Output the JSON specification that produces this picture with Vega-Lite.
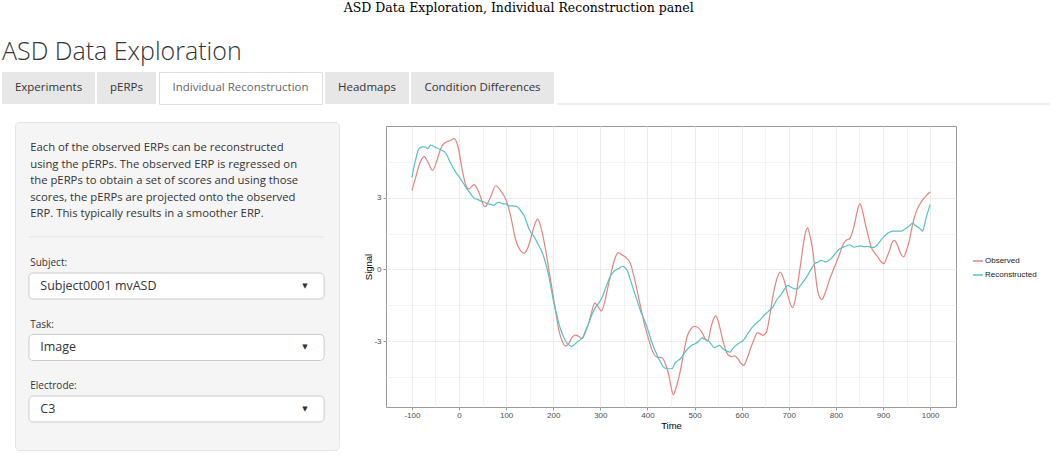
{
"$schema": "https://vega.github.io/schema/vega-lite/v6.json",
"padding": {"left": 2, "top": 2, "right": 0, "bottom": 0},
"background": "white",
"title": {"text": "ASD Data Exploration, Individual Reconstruction panel", "font": "DejaVu Serif", "fontSize": 12.5, "fontWeight": "normal", "color": "#000", "anchor": "middle", "offset": 25, "dx": -8},
"config": {"view": {"stroke": null}, "font": "Open Sans"},
"datasets": {
"sidebar": [
{"item": "description", "kind": "paragraph", "text": "Each of the observed ERPs can be reconstructed\nusing the pERPs. The observed ERP is regressed on\nthe pERPs to obtain a set of scores and using those\nscores, the pERPs are projected onto the observed\nERP. This typically results in a smoother ERP."},
{"item": "separator", "kind": "rule", "text": ""},
{"item": "subject-label", "kind": "label", "text": "Subject:"},
{"item": "subject-select", "kind": "select", "text": "Subject0001 mvASD"},
{"item": "task-label", "kind": "label", "text": "Task:"},
{"item": "task-select", "kind": "select", "text": "Image"},
{"item": "electrode-label", "kind": "label", "text": "Electrode:"},
{"item": "electrode-select", "kind": "select", "text": "C3"}
],
"erp": [
{"time":-100,"signal":3.30,"series":"Observed"},{"time":-92,"signal":3.85,"series":"Observed"},{"time":-84,"signal":4.40,"series":"Observed"},{"time":-74,"signal":4.72,"series":"Observed"},{"time":-65,"signal":4.45,"series":"Observed"},{"time":-56,"signal":4.14,"series":"Observed"},{"time":-47,"signal":4.55,"series":"Observed"},{"time":-39,"signal":5.05,"series":"Observed"},{"time":-30,"signal":5.30,"series":"Observed"},{"time":-20,"signal":5.38,"series":"Observed"},{"time":-10,"signal":5.47,"series":"Observed"},{"time":-2,"signal":5.12,"series":"Observed"},{"time":7,"signal":4.14,"series":"Observed"},{"time":14,"signal":3.55,"series":"Observed"},{"time":21,"signal":3.37,"series":"Observed"},{"time":32,"signal":3.55,"series":"Observed"},{"time":42,"signal":3.23,"series":"Observed"},{"time":55,"signal":2.62,"series":"Observed"},{"time":67,"signal":3.03,"series":"Observed"},{"time":78,"signal":3.50,"series":"Observed"},{"time":90,"signal":3.25,"series":"Observed"},{"time":100,"signal":2.90,"series":"Observed"},{"time":110,"signal":2.20,"series":"Observed"},{"time":120,"signal":1.25,"series":"Observed"},{"time":130,"signal":0.80,"series":"Observed"},{"time":138,"signal":0.68,"series":"Observed"},{"time":147,"signal":0.95,"series":"Observed"},{"time":155,"signal":1.49,"series":"Observed"},{"time":162,"signal":1.95,"series":"Observed"},{"time":167,"signal":2.10,"series":"Observed"},{"time":174,"signal":1.75,"series":"Observed"},{"time":184,"signal":0.80,"series":"Observed"},{"time":191,"signal":-0.05,"series":"Observed"},{"time":198,"signal":-0.88,"series":"Observed"},{"time":205,"signal":-1.75,"series":"Observed"},{"time":212,"signal":-2.55,"series":"Observed"},{"time":219,"signal":-3.00,"series":"Observed"},{"time":226,"signal":-3.21,"series":"Observed"},{"time":233,"signal":-3.10,"series":"Observed"},{"time":240,"signal":-2.85,"series":"Observed"},{"time":247,"signal":-2.75,"series":"Observed"},{"time":255,"signal":-2.82,"series":"Observed"},{"time":261,"signal":-2.90,"series":"Observed"},{"time":268,"signal":-2.65,"series":"Observed"},{"time":275,"signal":-2.27,"series":"Observed"},{"time":282,"signal":-1.75,"series":"Observed"},{"time":288,"signal":-1.41,"series":"Observed"},{"time":295,"signal":-1.55,"series":"Observed"},{"time":302,"signal":-1.74,"series":"Observed"},{"time":310,"signal":-1.30,"series":"Observed"},{"time":316,"signal":-0.75,"series":"Observed"},{"time":321,"signal":-0.32,"series":"Observed"},{"time":330,"signal":0.40,"series":"Observed"},{"time":338,"signal":0.70,"series":"Observed"},{"time":346,"signal":0.60,"series":"Observed"},{"time":353,"signal":0.52,"series":"Observed"},{"time":364,"signal":0.24,"series":"Observed"},{"time":372,"signal":-0.35,"series":"Observed"},{"time":381,"signal":-1.16,"series":"Observed"},{"time":388,"signal":-1.80,"series":"Observed"},{"time":395,"signal":-2.41,"series":"Observed"},{"time":403,"signal":-2.95,"series":"Observed"},{"time":410,"signal":-3.39,"series":"Observed"},{"time":420,"signal":-3.67,"series":"Observed"},{"time":431,"signal":-3.70,"series":"Observed"},{"time":438,"signal":-3.95,"series":"Observed"},{"time":445,"signal":-4.40,"series":"Observed"},{"time":450,"signal":-4.90,"series":"Observed"},{"time":455,"signal":-5.25,"series":"Observed"},{"time":460,"signal":-5.00,"series":"Observed"},{"time":465,"signal":-4.65,"series":"Observed"},{"time":470,"signal":-4.23,"series":"Observed"},{"time":477,"signal":-3.50,"series":"Observed"},{"time":484,"signal":-2.83,"series":"Observed"},{"time":492,"signal":-2.50,"series":"Observed"},{"time":500,"signal":-2.38,"series":"Observed"},{"time":508,"signal":-2.45,"series":"Observed"},{"time":516,"signal":-2.65,"series":"Observed"},{"time":524,"signal":-2.95,"series":"Observed"},{"time":528,"signal":-3.00,"series":"Observed"},{"time":535,"signal":-2.41,"series":"Observed"},{"time":540,"signal":-2.10,"series":"Observed"},{"time":545,"signal":-1.95,"series":"Observed"},{"time":552,"signal":-2.30,"series":"Observed"},{"time":560,"signal":-2.97,"series":"Observed"},{"time":570,"signal":-3.55,"series":"Observed"},{"time":578,"signal":-3.65,"series":"Observed"},{"time":585,"signal":-3.62,"series":"Observed"},{"time":592,"signal":-3.74,"series":"Observed"},{"time":598,"signal":-3.92,"series":"Observed"},{"time":604,"signal":-4.02,"series":"Observed"},{"time":612,"signal":-3.70,"series":"Observed"},{"time":620,"signal":-3.25,"series":"Observed"},{"time":627,"signal":-2.90,"series":"Observed"},{"time":633,"signal":-2.66,"series":"Observed"},{"time":640,"signal":-2.70,"series":"Observed"},{"time":645,"signal":-2.76,"series":"Observed"},{"time":652,"signal":-2.65,"series":"Observed"},{"time":660,"signal":-1.90,"series":"Observed"},{"time":666,"signal":-1.16,"series":"Observed"},{"time":674,"signal":-0.45,"series":"Observed"},{"time":682,"signal":-0.11,"series":"Observed"},{"time":690,"signal":-0.45,"series":"Observed"},{"time":698,"signal":-1.09,"series":"Observed"},{"time":708,"signal":-1.60,"series":"Observed"},{"time":714,"signal":-1.25,"series":"Observed"},{"time":719,"signal":-0.60,"series":"Observed"},{"time":725,"signal":0.20,"series":"Observed"},{"time":730,"signal":0.93,"series":"Observed"},{"time":735,"signal":1.50,"series":"Observed"},{"time":740,"signal":1.74,"series":"Observed"},{"time":745,"signal":1.40,"series":"Observed"},{"time":751,"signal":0.79,"series":"Observed"},{"time":756,"signal":-0.10,"series":"Observed"},{"time":760,"signal":-0.74,"series":"Observed"},{"time":765,"signal":-1.15,"series":"Observed"},{"time":770,"signal":-1.27,"series":"Observed"},{"time":778,"signal":-0.95,"series":"Observed"},{"time":786,"signal":-0.46,"series":"Observed"},{"time":793,"signal":-0.10,"series":"Observed"},{"time":800,"signal":0.24,"series":"Observed"},{"time":808,"signal":0.65,"series":"Observed"},{"time":816,"signal":1.07,"series":"Observed"},{"time":822,"signal":1.22,"series":"Observed"},{"time":829,"signal":1.28,"series":"Observed"},{"time":834,"signal":1.50,"series":"Observed"},{"time":839,"signal":1.84,"series":"Observed"},{"time":845,"signal":2.40,"series":"Observed"},{"time":851,"signal":2.75,"series":"Observed"},{"time":857,"signal":2.40,"series":"Observed"},{"time":864,"signal":1.77,"series":"Observed"},{"time":870,"signal":1.30,"series":"Observed"},{"time":875,"signal":0.93,"series":"Observed"},{"time":882,"signal":0.70,"series":"Observed"},{"time":889,"signal":0.52,"series":"Observed"},{"time":896,"signal":0.32,"series":"Observed"},{"time":902,"signal":0.24,"series":"Observed"},{"time":908,"signal":0.50,"series":"Observed"},{"time":914,"signal":0.79,"series":"Observed"},{"time":919,"signal":1.10,"series":"Observed"},{"time":924,"signal":1.21,"series":"Observed"},{"time":930,"signal":1.05,"series":"Observed"},{"time":935,"signal":0.79,"series":"Observed"},{"time":940,"signal":0.58,"series":"Observed"},{"time":944,"signal":0.52,"series":"Observed"},{"time":950,"signal":0.80,"series":"Observed"},{"time":956,"signal":1.21,"series":"Observed"},{"time":962,"signal":1.80,"series":"Observed"},{"time":967,"signal":2.19,"series":"Observed"},{"time":972,"signal":2.48,"series":"Observed"},{"time":977,"signal":2.68,"series":"Observed"},{"time":983,"signal":2.88,"series":"Observed"},{"time":988,"signal":3.00,"series":"Observed"},{"time":994,"signal":3.13,"series":"Observed"},{"time":1000,"signal":3.24,"series":"Observed"},
{"time":-100,"signal":3.84,"series":"Reconstructed"},{"time":-92,"signal":4.60,"series":"Reconstructed"},{"time":-85,"signal":5.05,"series":"Reconstructed"},{"time":-78,"signal":5.13,"series":"Reconstructed"},{"time":-71,"signal":5.12,"series":"Reconstructed"},{"time":-66,"signal":5.06,"series":"Reconstructed"},{"time":-60,"signal":5.20,"series":"Reconstructed"},{"time":-49,"signal":5.09,"series":"Reconstructed"},{"time":-39,"signal":5.01,"series":"Reconstructed"},{"time":-28,"signal":4.86,"series":"Reconstructed"},{"time":-18,"signal":4.45,"series":"Reconstructed"},{"time":-7,"signal":4.07,"series":"Reconstructed"},{"time":3,"signal":3.80,"series":"Reconstructed"},{"time":14,"signal":3.45,"series":"Reconstructed"},{"time":25,"signal":3.15,"series":"Reconstructed"},{"time":32,"signal":2.98,"series":"Reconstructed"},{"time":39,"signal":2.93,"series":"Reconstructed"},{"time":46,"signal":2.86,"series":"Reconstructed"},{"time":53,"signal":2.82,"series":"Reconstructed"},{"time":60,"signal":2.75,"series":"Reconstructed"},{"time":67,"signal":2.72,"series":"Reconstructed"},{"time":74,"signal":2.68,"series":"Reconstructed"},{"time":80,"signal":2.78,"series":"Reconstructed"},{"time":85,"signal":2.80,"series":"Reconstructed"},{"time":92,"signal":2.75,"series":"Reconstructed"},{"time":99,"signal":2.74,"series":"Reconstructed"},{"time":106,"signal":2.66,"series":"Reconstructed"},{"time":113,"signal":2.66,"series":"Reconstructed"},{"time":124,"signal":2.62,"series":"Reconstructed"},{"time":131,"signal":2.45,"series":"Reconstructed"},{"time":138,"signal":2.26,"series":"Reconstructed"},{"time":143,"signal":2.00,"series":"Reconstructed"},{"time":148,"signal":1.72,"series":"Reconstructed"},{"time":154,"signal":1.50,"series":"Reconstructed"},{"time":159,"signal":1.38,"series":"Reconstructed"},{"time":164,"signal":1.20,"series":"Reconstructed"},{"time":169,"signal":1.00,"series":"Reconstructed"},{"time":175,"signal":0.78,"series":"Reconstructed"},{"time":180,"signal":0.52,"series":"Reconstructed"},{"time":186,"signal":0.10,"series":"Reconstructed"},{"time":191,"signal":-0.32,"series":"Reconstructed"},{"time":196,"signal":-0.85,"series":"Reconstructed"},{"time":201,"signal":-1.37,"series":"Reconstructed"},{"time":207,"signal":-1.85,"series":"Reconstructed"},{"time":212,"signal":-2.27,"series":"Reconstructed"},{"time":217,"signal":-2.58,"series":"Reconstructed"},{"time":222,"signal":-2.83,"series":"Reconstructed"},{"time":230,"signal":-3.11,"series":"Reconstructed"},{"time":235,"signal":-3.18,"series":"Reconstructed"},{"time":239,"signal":-3.22,"series":"Reconstructed"},{"time":245,"signal":-3.15,"series":"Reconstructed"},{"time":251,"signal":-3.04,"series":"Reconstructed"},{"time":257,"signal":-2.95,"series":"Reconstructed"},{"time":263,"signal":-2.83,"series":"Reconstructed"},{"time":269,"signal":-2.55,"series":"Reconstructed"},{"time":275,"signal":-2.27,"series":"Reconstructed"},{"time":282,"signal":-1.90,"series":"Reconstructed"},{"time":290,"signal":-1.58,"series":"Reconstructed"},{"time":297,"signal":-1.40,"series":"Reconstructed"},{"time":304,"signal":-1.16,"series":"Reconstructed"},{"time":310,"signal":-0.85,"series":"Reconstructed"},{"time":316,"signal":-0.53,"series":"Reconstructed"},{"time":321,"signal":-0.30,"series":"Reconstructed"},{"time":325,"signal":-0.18,"series":"Reconstructed"},{"time":330,"signal":-0.07,"series":"Reconstructed"},{"time":335,"signal":-0.01,"series":"Reconstructed"},{"time":341,"signal":0.06,"series":"Reconstructed"},{"time":347,"signal":0.13,"series":"Reconstructed"},{"time":352,"signal":0.08,"series":"Reconstructed"},{"time":357,"signal":-0.04,"series":"Reconstructed"},{"time":364,"signal":-0.45,"series":"Reconstructed"},{"time":371,"signal":-0.88,"series":"Reconstructed"},{"time":378,"signal":-1.30,"series":"Reconstructed"},{"time":385,"signal":-1.72,"series":"Reconstructed"},{"time":392,"signal":-2.05,"series":"Reconstructed"},{"time":399,"signal":-2.41,"series":"Reconstructed"},{"time":406,"signal":-2.85,"series":"Reconstructed"},{"time":413,"signal":-3.25,"series":"Reconstructed"},{"time":419,"signal":-3.52,"series":"Reconstructed"},{"time":424,"signal":-3.74,"series":"Reconstructed"},{"time":429,"signal":-3.92,"series":"Reconstructed"},{"time":434,"signal":-4.09,"series":"Reconstructed"},{"time":440,"signal":-4.15,"series":"Reconstructed"},{"time":445,"signal":-4.16,"series":"Reconstructed"},{"time":452,"signal":-4.16,"series":"Reconstructed"},{"time":459,"signal":-3.91,"series":"Reconstructed"},{"time":465,"signal":-3.82,"series":"Reconstructed"},{"time":470,"signal":-3.74,"series":"Reconstructed"},{"time":475,"signal":-3.60,"series":"Reconstructed"},{"time":480,"signal":-3.46,"series":"Reconstructed"},{"time":487,"signal":-3.30,"series":"Reconstructed"},{"time":494,"signal":-3.18,"series":"Reconstructed"},{"time":500,"signal":-3.12,"series":"Reconstructed"},{"time":505,"signal":-3.07,"series":"Reconstructed"},{"time":510,"signal":-2.98,"series":"Reconstructed"},{"time":516,"signal":-2.87,"series":"Reconstructed"},{"time":522,"signal":-2.92,"series":"Reconstructed"},{"time":528,"signal":-2.97,"series":"Reconstructed"},{"time":535,"signal":-3.12,"series":"Reconstructed"},{"time":542,"signal":-3.28,"series":"Reconstructed"},{"time":548,"signal":-3.22,"series":"Reconstructed"},{"time":553,"signal":-3.18,"series":"Reconstructed"},{"time":558,"signal":-3.28,"series":"Reconstructed"},{"time":563,"signal":-3.36,"series":"Reconstructed"},{"time":569,"signal":-3.42,"series":"Reconstructed"},{"time":575,"signal":-3.46,"series":"Reconstructed"},{"time":581,"signal":-3.32,"series":"Reconstructed"},{"time":588,"signal":-3.18,"series":"Reconstructed"},{"time":595,"signal":-3.08,"series":"Reconstructed"},{"time":602,"signal":-3.00,"series":"Reconstructed"},{"time":607,"signal":-2.88,"series":"Reconstructed"},{"time":613,"signal":-2.69,"series":"Reconstructed"},{"time":618,"signal":-2.55,"series":"Reconstructed"},{"time":623,"signal":-2.41,"series":"Reconstructed"},{"time":629,"signal":-2.30,"series":"Reconstructed"},{"time":634,"signal":-2.20,"series":"Reconstructed"},{"time":640,"signal":-2.10,"series":"Reconstructed"},{"time":645,"signal":-1.97,"series":"Reconstructed"},{"time":650,"signal":-1.88,"series":"Reconstructed"},{"time":655,"signal":-1.79,"series":"Reconstructed"},{"time":660,"signal":-1.70,"series":"Reconstructed"},{"time":666,"signal":-1.58,"series":"Reconstructed"},{"time":671,"signal":-1.40,"series":"Reconstructed"},{"time":676,"signal":-1.23,"series":"Reconstructed"},{"time":682,"signal":-1.10,"series":"Reconstructed"},{"time":687,"signal":-0.95,"series":"Reconstructed"},{"time":692,"signal":-0.80,"series":"Reconstructed"},{"time":698,"signal":-0.67,"series":"Reconstructed"},{"time":703,"signal":-0.72,"series":"Reconstructed"},{"time":708,"signal":-0.78,"series":"Reconstructed"},{"time":713,"signal":-0.82,"series":"Reconstructed"},{"time":719,"signal":-0.81,"series":"Reconstructed"},{"time":725,"signal":-0.66,"series":"Reconstructed"},{"time":730,"signal":-0.53,"series":"Reconstructed"},{"time":735,"signal":-0.40,"series":"Reconstructed"},{"time":740,"signal":-0.25,"series":"Reconstructed"},{"time":744,"signal":-0.10,"series":"Reconstructed"},{"time":747,"signal":-0.01,"series":"Reconstructed"},{"time":752,"signal":0.15,"series":"Reconstructed"},{"time":756,"signal":0.26,"series":"Reconstructed"},{"time":762,"signal":0.30,"series":"Reconstructed"},{"time":769,"signal":0.38,"series":"Reconstructed"},{"time":774,"signal":0.35,"series":"Reconstructed"},{"time":779,"signal":0.31,"series":"Reconstructed"},{"time":785,"signal":0.38,"series":"Reconstructed"},{"time":790,"signal":0.45,"series":"Reconstructed"},{"time":797,"signal":0.62,"series":"Reconstructed"},{"time":804,"signal":0.79,"series":"Reconstructed"},{"time":810,"signal":0.88,"series":"Reconstructed"},{"time":816,"signal":0.93,"series":"Reconstructed"},{"time":822,"signal":0.98,"series":"Reconstructed"},{"time":829,"signal":1.03,"series":"Reconstructed"},{"time":834,"signal":0.97,"series":"Reconstructed"},{"time":839,"signal":0.93,"series":"Reconstructed"},{"time":846,"signal":0.96,"series":"Reconstructed"},{"time":853,"signal":0.98,"series":"Reconstructed"},{"time":860,"signal":0.95,"series":"Reconstructed"},{"time":868,"signal":0.96,"series":"Reconstructed"},{"time":875,"signal":0.92,"series":"Reconstructed"},{"time":882,"signal":0.93,"series":"Reconstructed"},{"time":889,"signal":1.05,"series":"Reconstructed"},{"time":895,"signal":1.21,"series":"Reconstructed"},{"time":901,"signal":1.35,"series":"Reconstructed"},{"time":907,"signal":1.46,"series":"Reconstructed"},{"time":914,"signal":1.55,"series":"Reconstructed"},{"time":921,"signal":1.60,"series":"Reconstructed"},{"time":930,"signal":1.60,"series":"Reconstructed"},{"time":938,"signal":1.60,"series":"Reconstructed"},{"time":946,"signal":1.68,"series":"Reconstructed"},{"time":953,"signal":1.77,"series":"Reconstructed"},{"time":958,"signal":1.86,"series":"Reconstructed"},{"time":963,"signal":1.94,"series":"Reconstructed"},{"time":968,"signal":1.85,"series":"Reconstructed"},{"time":974,"signal":1.77,"series":"Reconstructed"},{"time":980,"signal":1.68,"series":"Reconstructed"},{"time":984,"signal":1.60,"series":"Reconstructed"},{"time":988,"signal":1.85,"series":"Reconstructed"},{"time":992,"signal":2.19,"series":"Reconstructed"},{"time":996,"signal":2.45,"series":"Reconstructed"},{"time":1000,"signal":2.71,"series":"Reconstructed"}
]
},
"spacing": 16,
"vconcat": [
{
"title": {"text": "ASD Data Exploration", "anchor": "start", "font": "Open Sans", "fontSize": 25, "fontWeight": 300, "color": "#333", "offset": 7},
"spacing": 2,
"hconcat": [
{"width": 93, "height": 32, "view": {"fill": "#e7e7e7"}, "data": {"values": [{"tab": "Experiments"}]}, "mark": {"type": "text", "fontSize": 11.5, "color": "#333"}, "encoding": {"text": {"field": "tab"}}},
{"width": 59, "height": 32, "view": {"fill": "#e7e7e7"}, "data": {"values": [{"tab": "pERPs"}]}, "mark": {"type": "text", "fontSize": 11.5, "color": "#333"}, "encoding": {"text": {"field": "tab"}}},
{"width": 163, "height": 32, "view": {"fill": "white", "stroke": "#dddddd"}, "data": {"values": [{"tab": "Individual Reconstruction"}]}, "mark": {"type": "text", "fontSize": 11.5, "color": "#666"}, "encoding": {"text": {"field": "tab"}}},
{"width": 84, "height": 32, "view": {"fill": "#e7e7e7"}, "data": {"values": [{"tab": "Headmaps"}]}, "mark": {"type": "text", "fontSize": 11.5, "color": "#333"}, "encoding": {"text": {"field": "tab"}}},
{"width": 143, "height": 32, "view": {"fill": "#e7e7e7"}, "data": {"values": [{"tab": "Condition Differences"}]}, "mark": {"type": "text", "fontSize": 11.5, "color": "#333"}, "encoding": {"text": {"field": "tab"}}},
{"width": 494, "height": 32, "data": {"values": [{"line": "tab-border"}]}, "mark": {"type": "rule", "color": "#dddddd", "strokeWidth": 1}, "encoding": {"y": {"datum": 0, "type": "quantitative", "scale": {"domain": [0, 1]}, "axis": null}}}
]
},
{
"spacing": 0,
"hconcat": [
{"width": 12, "height": 1, "data": {"values": []}, "mark": "point"},
{
"spacing": 23,
"hconcat": [
{
"width": 324, "height": 328,
"view": {"fill": "#f5f5f5", "stroke": "#e3e3e3", "cornerRadius": 4},
"data": {"name": "sidebar"},
"layer": [
{"transform": [{"filter": "datum.kind === 'rule'"}], "mark": {"type": "rule", "color": "#e3e3e3"},
 "encoding": {"x": {"datum": 0.043, "type": "quantitative", "scale": {"domain": [0, 1]}, "axis": null}, "x2": {"datum": 0.954},
  "y": {"field": "item", "type": "nominal", "scale": {"type": "point", "padding": 0.335, "domain": ["g0","description","g2","g3","g4","g5","g6","g7","g8","separator","g10","subject-label","g12","subject-select","g14","g15","task-label","g17","task-select","g19","g20","electrode-label","g22","electrode-select","g24","g25","g26"]}, "axis": null}}},
{"transform": [{"filter": "datum.kind === 'select'"}], "mark": {"type": "rect", "fill": "white", "stroke": "#cccccc", "strokeWidth": 1, "cornerRadius": 4, "height": 26},
 "encoding": {"x": {"datum": 0.043, "type": "quantitative"}, "x2": {"datum": 0.954},
  "y": {"field": "item", "type": "nominal", "axis": null}}},
{"transform": [{"filter": "datum.kind === 'select'"}], "mark": {"type": "text", "align": "left", "baseline": "middle", "fontSize": 12.5, "color": "#333"},
 "encoding": {"x": {"datum": 0.078, "type": "quantitative"}, "y": {"field": "item", "type": "nominal", "axis": null}, "text": {"field": "text"}}},
{"transform": [{"filter": "datum.kind === 'select'"}], "mark": {"type": "text", "text": "▼", "font": "DejaVu Sans", "fontSize": 7, "color": "#333", "baseline": "middle"},
 "encoding": {"x": {"datum": 0.895, "type": "quantitative"}, "y": {"field": "item", "type": "nominal", "axis": null}}},
{"transform": [{"filter": "datum.kind === 'label'"}], "mark": {"type": "text", "align": "left", "baseline": "middle", "fontSize": 10, "dy": 2, "color": "#333"},
 "encoding": {"x": {"datum": 0.047, "type": "quantitative"}, "y": {"field": "item", "type": "nominal", "axis": null}, "text": {"field": "text"}}},
{"transform": [{"filter": "datum.kind === 'paragraph'"}], "mark": {"type": "text", "align": "left", "baseline": "top", "fontSize": 11.3, "lineHeight": 16.5, "lineBreak": "\n", "dy": 4, "color": "#333"},
 "encoding": {"x": {"datum": 0.047, "type": "quantitative"}, "y": {"field": "item", "type": "nominal", "axis": null}, "text": {"field": "text"}}}
]
},
{
"spacing": 0,
"vconcat": [
{"width": 1, "height": 2.5, "data": {"values": []}, "mark": "point"},
{
"width": 570, "height": 281,
"view": {"fill": "white", "stroke": "#999999"},
"data": {"name": "erp"},
"mark": {"type": "line", "interpolate": "monotone", "strokeWidth": 1.2},
"encoding": {
"x": {"field": "time", "type": "quantitative", "title": "Time",
 "scale": {"domain": [-155, 1055], "nice": false, "zero": false},
 "axis": {"values": [-100,-50,0,50,100,150,200,250,300,350,400,450,500,550,600,650,700,750,800,850,900,950,1000],
  "labelExpr": "datum.value % 100 === 0 ? '' + datum.value : ''", "labelFont": "Liberation Sans", "labelFontSize": 8, "labelColor": "#4d4d4d", "labelPadding": 1, "labelOverlap": false, "labelFlush": false,
  "domain": false, "tickSize": 3, "tickColor": {"condition": {"test": "datum.value % 100 !== 0", "value": "transparent"}, "value": "#999999"},
  "gridColor": "#ebebeb", "gridWidth": {"condition": {"test": "datum.value % 100 !== 0", "value": 0.6}, "value": 1},
  "titleFont": "Liberation Sans", "titleFontSize": 9.5, "titleFontWeight": "normal", "titleColor": "#000", "titlePadding": 1}},
"y": {"field": "signal", "type": "quantitative", "title": "Signal",
 "scale": {"domain": [-5.76, 6.0], "nice": false, "zero": false},
 "axis": {"values": [-4.5,-3,-1.5,0,1.5,3,4.5],
  "labelExpr": "datum.value % 3 === 0 ? '' + datum.value : ''", "labelFont": "Liberation Sans", "labelFontSize": 8, "labelColor": "#4d4d4d", "labelPadding": 2, "labelOverlap": false, "labelFlush": false,
  "domain": false, "tickSize": 3, "tickColor": {"condition": {"test": "datum.value % 3 !== 0", "value": "transparent"}, "value": "#999999"},
  "gridColor": "#ebebeb", "gridWidth": {"condition": {"test": "datum.value % 3 !== 0", "value": 0.6}, "value": 1},
  "titleFont": "Liberation Sans", "titleFontSize": 9.5, "titleFontWeight": "normal", "titleColor": "#000", "titlePadding": 0}},
"color": {"field": "series", "type": "nominal",
 "scale": {"domain": ["Observed", "Reconstructed"], "range": ["#E5837D", "#52C3C4"]},
 "legend": {"title": null, "orient": "none", "legendX": 970, "legendY": 183, "symbolType": "stroke", "symbolSize": 100, "symbolStrokeWidth": 1.5, "labelFont": "Liberation Sans", "labelFontSize": 8, "labelColor": "#1a1a1a", "labelOffset": 1, "rowPadding": 4, "padding": 0}}
}
}
]
}
]
}
]
}
]
}
